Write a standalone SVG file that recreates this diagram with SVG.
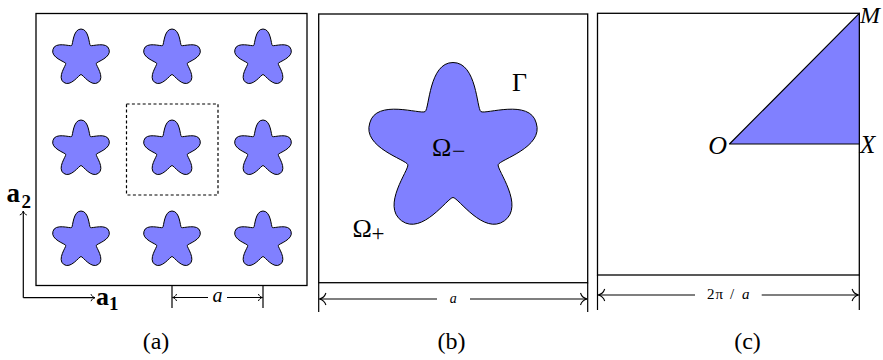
<svg xmlns="http://www.w3.org/2000/svg" width="883" height="360" viewBox="0 0 883 360">
<style>
.box{fill:none;stroke:#000;stroke-width:1.3}
.ln{fill:none;stroke:#000;stroke-width:1.2}
.st{fill:#8080ff;stroke:#000;stroke-width:1;vector-effect:non-scaling-stroke;stroke-linejoin:round}
.t{font-family:"Liberation Serif","DejaVu Serif",serif;fill:#000}
.it{font-style:italic}
.bf{font-weight:bold}
</style>
<defs>
<path id="star" class="st" d="M0,-87.5 C24,-87.5 23.6,-41.2 27.92,-38.43 C32.2,-35.3 77,-51.5 83.22,-27.04 C91.2,-2.7 46.7,9.6 45.18,14.68 C43.7,19.7 72,55.8 51.43,70.79 C30.9,85.8 5.2,47.5 0,47.5 C-5.2,47.5 -30.9,85.8 -51.43,70.79 C-72,55.8 -43.7,19.7 -45.18,14.68 C-46.7,9.6 -91.2,-2.7 -83.22,-27.04 C-77,-51.5 -32.2,-35.3 -27.92,-38.43 C-23.6,-41.2 -24,-87.5 0,-87.5 Z"/>
<marker id="ars" markerUnits="userSpaceOnUse" viewBox="-5 -4 6 8" refX="0" refY="0" markerWidth="6" markerHeight="8" orient="auto" overflow="visible">
<path d="M-4,-3.5 C-3.2,-1.4 -1.5,-0.4 0,0 C-1.5,0.4 -3.2,1.4 -4,3.5" fill="none" stroke="#000" stroke-width="1"/>
</marker>
<marker id="arl" markerUnits="userSpaceOnUse" viewBox="-7 -6 8 12" refX="0" refY="0" markerWidth="8" markerHeight="12" orient="auto" overflow="visible">
<path d="M-6.5,-6 C-5.3,-2.4 -2.5,-0.6 0,0 C-2.5,0.6 -5.3,2.4 -6.5,6" fill="none" stroke="#000" stroke-width="1.1"/>
</marker>
</defs>

<g id="panel-a">
<rect class="box" x="36" y="13.5" width="271" height="272"/>
<g id="stars-a">
<use href="#star" transform="translate(81,58.5) scale(0.337)"/>
<use href="#star" transform="translate(172,58.5) scale(0.337)"/>
<use href="#star" transform="translate(263,58.5) scale(0.337)"/>
<use href="#star" transform="translate(81,149.5) scale(0.337)"/>
<use href="#star" transform="translate(172,149.5) scale(0.337)"/>
<use href="#star" transform="translate(263,149.5) scale(0.337)"/>
<use href="#star" transform="translate(81,240.5) scale(0.337)"/>
<use href="#star" transform="translate(172,240.5) scale(0.337)"/>
<use href="#star" transform="translate(263,240.5) scale(0.337)"/>
</g>
<rect id="unit-cell" x="126.5" y="104" width="91.5" height="91" fill="none" stroke="#000" stroke-width="1.2" stroke-dasharray="3 2.4"/>
<text class="t bf" x="6.5" y="201.5" font-size="27">a</text>
<text class="t bf" x="21.5" y="207.5" font-size="19">2</text>
<text class="t bf" x="96" y="305" font-size="26">a</text>
<text class="t bf" x="109" y="309.5" font-size="19">1</text>
<text class="t it" x="217.5" y="302" font-size="20" text-anchor="middle">a</text>
<text class="t" x="156" y="349" font-size="24" text-anchor="middle">(a)</text>
</g>

<g id="panel-b">
<rect class="box" x="318.7" y="14" width="269" height="268.7"/>
<use href="#star" transform="translate(453,150)"/>
<text class="t" x="432" y="156" font-size="26">Ω</text>
<text class="t" x="452" y="159" font-size="24">−</text>
<text class="t" x="512" y="91" font-size="26">Γ</text>
<text class="t" x="352.5" y="236.7" font-size="26">Ω</text>
<text class="t" x="371.5" y="241" font-size="23">+</text>
<text class="t it" x="453.3" y="303" font-size="14" text-anchor="middle">a</text>
<text class="t" x="451.5" y="349" font-size="24" text-anchor="middle">(b)</text>
</g>

<g id="panel-c">
<rect class="box" x="597.5" y="13.3" width="261.8" height="261.7"/>
<polygon id="triangle" points="729.5,144 859.3,144 859.3,13.3" fill="#8080ff" stroke="#000" stroke-width="1.2" stroke-linejoin="round"/>
<text class="t it" x="860" y="22.7" font-size="24">M</text>
<text class="t it" x="860" y="153" font-size="25">X</text>
<text class="t it" x="727" y="154" font-size="26" text-anchor="end">O</text>
<text class="t" font-size="15" y="298.5"><tspan x="707">2</tspan><tspan x="715.5">π</tspan><tspan x="730">/</tspan><tspan class="it" x="742">a</tspan></text>
<text class="t" x="747.5" y="349" font-size="24" text-anchor="middle">(c)</text>
</g>

<g id="connectors">
<line class="ln" x1="23.3" y1="297.7" x2="23.3" y2="211" marker-end="url(#ars)"/>
<line class="ln" x1="23.3" y1="297.7" x2="95" y2="297.7" marker-end="url(#ars)"/>
<line class="ln" x1="172" y1="285.7" x2="172" y2="308"/>
<line class="ln" x1="263" y1="285.7" x2="263" y2="308"/>
<line class="ln" x1="208" y1="297.5" x2="172.6" y2="297.5" marker-end="url(#ars)"/>
<line class="ln" x1="227" y1="297.5" x2="262.4" y2="297.5" marker-end="url(#ars)"/>
<line class="ln" x1="318.7" y1="282.7" x2="318.7" y2="312"/>
<line class="ln" x1="587.7" y1="282.7" x2="587.7" y2="312"/>
<line class="ln" x1="437" y1="299" x2="319.4" y2="299" marker-end="url(#arl)"/>
<line class="ln" x1="470" y1="299" x2="587" y2="299" marker-end="url(#arl)"/>
<line class="ln" x1="597.5" y1="275" x2="597.5" y2="310"/>
<line class="ln" x1="859.3" y1="275" x2="859.3" y2="310"/>
<line class="ln" x1="695" y1="295" x2="598.2" y2="295" marker-end="url(#arl)"/>
<line class="ln" x1="761.7" y1="295" x2="858.6" y2="295" marker-end="url(#arl)"/>
</g>
</svg>
